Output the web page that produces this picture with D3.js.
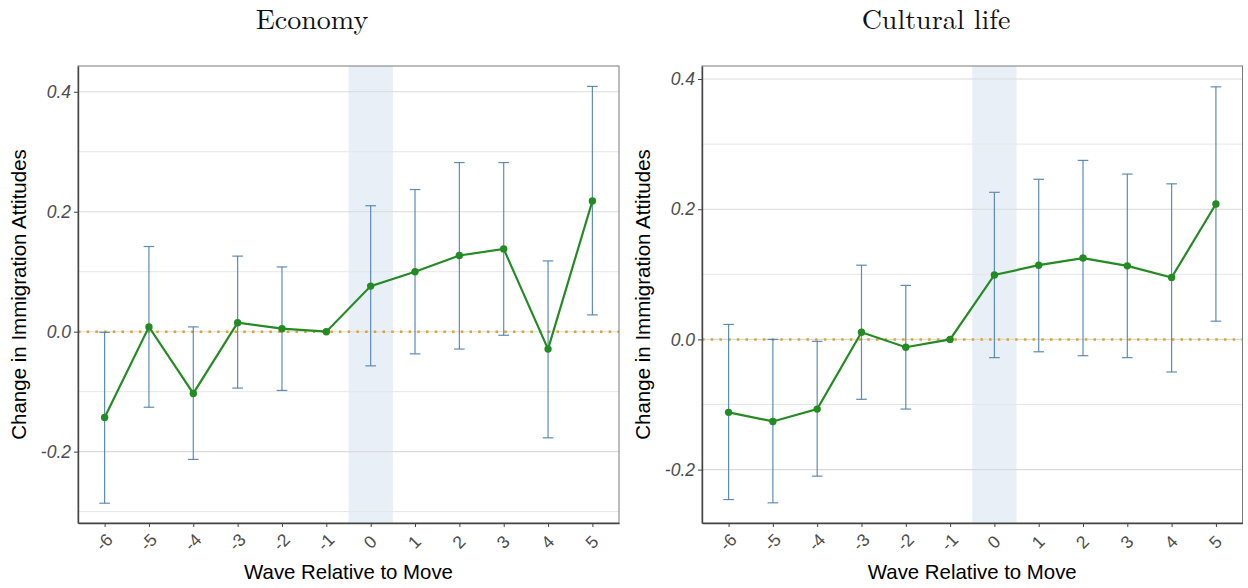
<!DOCTYPE html>
<html>
<head>
<meta charset="utf-8">
<script src="https://cdn.jsdelivr.net/npm/d3@7"></script>
<style>
  body { margin: 0; background: #fff; }
  svg { display: block; }
</style>
</head>
<body>
<svg id="chart" width="1248" height="588"></svg>
<script>
// ---- data ----
const waves = [-6, -5, -4, -3, -2, -1, 0, 1, 2, 3, 4, 5];
const waveLabels = ["-6", "-5", "-4", "-3", "-2", "-1", "0", "1", "2", "3", "4", "5"];
const panelTitles = ["Economy", "Cultural life"];

const economyEst = [-0.143, 0.008, -0.103, 0.015, 0.005, 0, 0.076, 0.100, 0.127, 0.138, -0.029, 0.218];
const economyLo  = [-0.286, -0.126, -0.213, -0.094, -0.098, null, -0.057, -0.037, -0.029, -0.006, -0.177, 0.028];
const economyHi  = [-0.001, 0.142, 0.008, 0.126, 0.108, null, 0.210, 0.237, 0.282, 0.282, 0.118, 0.409];

const cultureEst = [-0.112, -0.126, -0.107, 0.011, -0.012, 0, 0.099, 0.114, 0.125, 0.113, 0.095, 0.208];
const cultureLo  = [-0.246, -0.251, -0.210, -0.092, -0.107, null, -0.028, -0.019, -0.025, -0.028, -0.050, 0.028];
const cultureHi  = [0.023, 0.000, -0.003, 0.114, 0.083, null, 0.226, 0.246, 0.275, 0.254, 0.239, 0.388];

const yMajorTicks = [-0.2, 0.0, 0.2, 0.4];
const yTickLabels = ["-0.2", "0.0", "0.2", "0.4"];
const yMinorTicksEconomy = [-0.3, -0.1, 0.1, 0.3];
const yMinorTicksCulture = [-0.1, 0.1, 0.3];
const yDomainEconomy = [-0.319, 0.443];
const yDomainCulture = [-0.282, 0.420];

const xTitle = "Wave Relative to Move";
const yTitle = "Change in Immigration Attitudes";

// ---- drawing ----
const svg = d3.select("#chart");
const sans = "Arial, 'Liberation Sans', Helvetica, sans-serif";

function drawPanel(o) {
  const g = svg.append("g").attr("transform", `translate(${o.offsetX},0)`);
  const L = o.left, R = o.right, T = 66, B = 523;
  const x = d3.scaleLinear().domain([-6.6, 5.6]).range([L, R]);
  const y = d3.scaleLinear().domain(o.yDomain).range([B, T]);

  // title
  g.append("text")
    .attr("x", 312).attr("y", 29)
    .attr("text-anchor", "middle")
    .attr("font-family", "'Latin Modern Roman','Liberation Serif','DejaVu Serif',serif")
    .attr("font-size", 28)
    .attr("fill", "#111")
    .text(o.title);

  // highlight band at wave 0
  g.append("rect")
    .attr("x", x(-0.5)).attr("y", T)
    .attr("width", x(0.5) - x(-0.5)).attr("height", B - T)
    .attr("fill", "#E9EFF7");

  // gridlines
  g.append("g").selectAll("line").data(o.minor).join("line")
    .attr("x1", L).attr("x2", R)
    .attr("y1", d => y(d)).attr("y2", d => y(d))
    .attr("stroke", "#E6E6E6").attr("stroke-width", 1);
  g.append("g").selectAll("line").data(yMajorTicks).join("line")
    .attr("x1", L).attr("x2", R)
    .attr("y1", d => y(d)).attr("y2", d => y(d))
    .attr("stroke", "#DADADA").attr("stroke-width", 1.1);

  // zero reference (dotted)
  g.append("line")
    .attr("x1", L).attr("x2", R)
    .attr("y1", y(0)).attr("y2", y(0))
    .attr("stroke", "#E2A22A").attr("stroke-width", 2.5)
    .attr("stroke-dasharray", "2.5,6.2");

  // error bars
  const rows = waves.map((w, i) => ({w, est: o.est[i], lo: o.lo[i], hi: o.hi[i]}));
  const eb = rows.filter(d => d.lo !== null);
  const capHalf = 0.12;
  const ebG = g.append("g").attr("stroke", "#4A7FB0").attr("stroke-width", 1.2).attr("stroke-opacity", 0.9);
  ebG.selectAll("line.v").data(eb).join("line").attr("class", "v")
    .attr("x1", d => x(d.w)).attr("x2", d => x(d.w))
    .attr("y1", d => y(d.lo)).attr("y2", d => y(d.hi));
  ebG.selectAll("line.t").data(eb).join("line").attr("class", "t")
    .attr("x1", d => x(d.w - capHalf)).attr("x2", d => x(d.w + capHalf))
    .attr("y1", d => y(d.hi)).attr("y2", d => y(d.hi));
  ebG.selectAll("line.b").data(eb).join("line").attr("class", "b")
    .attr("x1", d => x(d.w - capHalf)).attr("x2", d => x(d.w + capHalf))
    .attr("y1", d => y(d.lo)).attr("y2", d => y(d.lo));

  // line + points
  g.append("path").datum(rows)
    .attr("fill", "none").attr("stroke", "#228B22").attr("stroke-width", 2.2)
    .attr("d", d3.line().x(d => x(d.w)).y(d => y(d.est)));
  g.append("g").selectAll("circle").data(rows).join("circle")
    .attr("cx", d => x(d.w)).attr("cy", d => y(d.est)).attr("r", 3.7)
    .attr("fill", "#228B22");

  // panel border
  g.append("rect")
    .attr("x", L).attr("y", T).attr("width", R - L).attr("height", B - T)
    .attr("fill", "none").attr("stroke", "#7A7A7A").attr("stroke-width", 1);

  // y axis
  const yAxis = d3.axisLeft(y).tickValues(yMajorTicks).tickSize(4).tickSizeOuter(0).tickPadding(3)
    .tickFormat((d, i) => yTickLabels[i]);
  const ya = g.append("g").attr("transform", `translate(${L},0)`).call(yAxis);
  ya.select(".domain").attr("stroke", "#444").attr("stroke-width", 1.4);
  ya.selectAll(".tick line").attr("stroke", "#444");
  ya.selectAll(".tick text")
    .attr("font-family", sans)
    .attr("font-size", 17.5).attr("font-style", "italic").attr("fill", "#4D4D4D");

  // x axis
  const xAxis = d3.axisBottom(x).tickValues(waves).tickSize(4).tickSizeOuter(0)
    .tickFormat((d, i) => waveLabels[i]);
  const xa = g.append("g").attr("transform", `translate(0,${B})`).call(xAxis);
  xa.select(".domain").attr("stroke", "#444").attr("stroke-width", 1.4);
  xa.selectAll(".tick line").attr("stroke", "#444");
  xa.selectAll(".tick text")
    .attr("font-family", sans)
    .attr("font-size", 17.5).attr("fill", "#4D4D4D")
    .attr("text-anchor", "middle")
    .attr("y", 0).attr("dy", 0)
    .attr("transform", "translate(0,20) rotate(-45)")
    .attr("dominant-baseline", "middle");

  // axis titles
  g.append("text")
    .attr("x", (L + R) / 2).attr("y", 579)
    .attr("text-anchor", "middle")
    .attr("font-family", sans)
    .attr("font-size", 20.4).attr("fill", "#000")
    .text(xTitle);
  g.append("text")
    .attr("transform", `translate(26,${(T + B) / 2}) rotate(-90)`)
    .attr("text-anchor", "middle")
    .attr("font-family", sans)
    .attr("font-size", 20.5).attr("fill", "#000")
    .text(yTitle);
}

drawPanel({offsetX: 0, left: 78, right: 619, title: panelTitles[0],
  yDomain: yDomainEconomy, minor: yMinorTicksEconomy,
  est: economyEst, lo: economyLo, hi: economyHi});
drawPanel({offsetX: 624, left: 78, right: 618.5, title: panelTitles[1],
  yDomain: yDomainCulture, minor: yMinorTicksCulture,
  est: cultureEst, lo: cultureLo, hi: cultureHi});
</script>
</body>
</html>
